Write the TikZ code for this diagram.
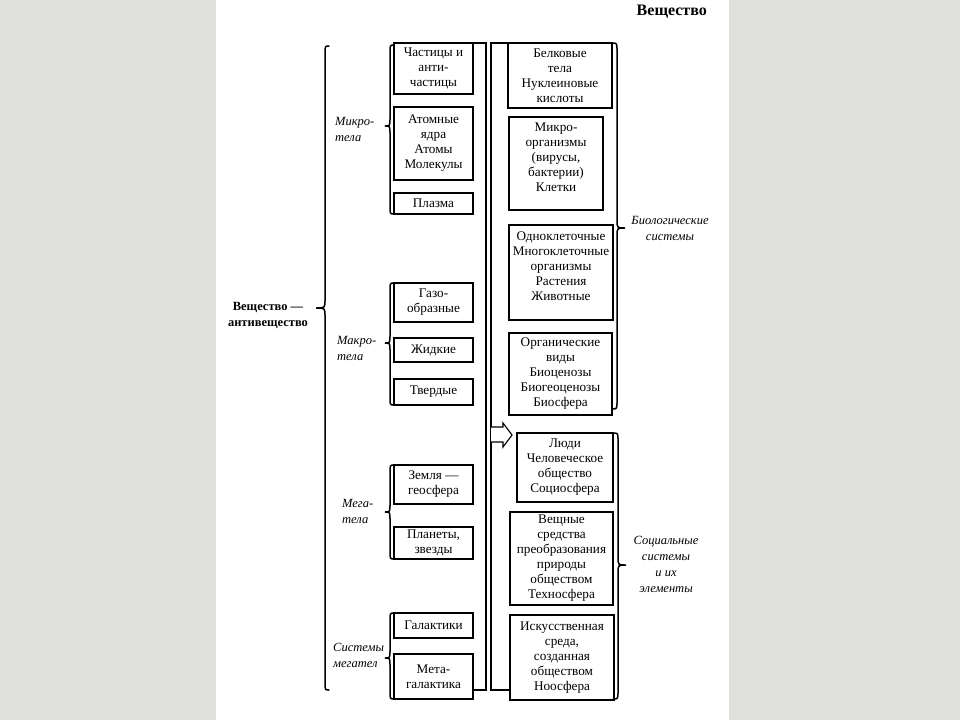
\documentclass[tikz,border=0pt]{standalone}
\usepackage{fontspec}
\setmainfont{Liberation Serif}
\usetikzlibrary{calc}
\definecolor{bggray}{RGB}{224,224,222}
\tikzset{
  boxst/.style={draw, line width=1.3pt, inner sep=0pt, outer sep=0pt, align=center, font=\fontsize{13.2}{15}\selectfont},
  lblst/.style={font=\itshape\fontsize{12.5}{16}\selectfont, inner sep=0pt, align=left, anchor=west},
  rlblst/.style={font=\itshape\fontsize{12.5}{16}\selectfont, inner sep=0pt, align=center},
  linest/.style={line width=1.3pt},
  bracest/.style={line width=1.5pt, line cap=round},
}
% box: name, x1, y1, x2, y2, text
\newcommand{\bx}[6]{\node[boxst, minimum width={#4-#2}, minimum height={#5-#3}] (#1) at ({(#2+#4)/2},{(#3+#5)/2}) {#6};}
% left-pointing brace: x, ytop, ycusp, ybot, hook, tip
\newcommand{\brL}[6]{\draw[bracest] ({#1+#5},#2) .. controls (#1,#2) .. (#1,{#2+8}) -- (#1,{#3-8}) .. controls (#1,#3) .. ({#1-#6},#3) .. controls (#1,#3) .. (#1,{#3+8}) -- (#1,{#4-8}) .. controls (#1,#4) .. ({#1+#5},#4);}
% right-pointing brace
\newcommand{\brR}[6]{\draw[bracest] ({#1-#5},#2) .. controls (#1,#2) .. (#1,{#2+8}) -- (#1,{#3-8}) .. controls (#1,#3) .. ({#1+#6},#3) .. controls (#1,#3) .. (#1,{#3+8}) -- (#1,{#4-8}) .. controls (#1,#4) .. ({#1-#5},#4);}
\begin{document}
\begin{tikzpicture}[x=1pt,y=-1pt]
\useasboundingbox (0,0) rectangle (960,720);
\fill[bggray] (0,0) rectangle (960,720);
\fill[white] (216,0) rectangle (729,720);

% title
\node[font=\bfseries\fontsize{16}{18}\selectfont, anchor=east, inner sep=0pt] (title) at (707,12) {Вещество};

% left label
\node[font=\bfseries\fontsize{12.5}{16}\selectfont, align=center, inner sep=0pt] (vav) at (268,315) {Вещество —\\антивещество};

% big brace
\brL{325}{46}{308}{690}{4}{9}

% left boxes
\bx{p1}{394}{43}{473}{94}{Частицы и\\анти-\\частицы}
\bx{p2}{394}{107}{473}{180}{Атомные\\ядра\\Атомы\\Молекулы}
\bx{p3}{394}{193}{473}{214}{Плазма}
\bx{m1}{394}{283}{473}{322}{Газо-\\образные}
\bx{m2}{394}{338}{473}{362}{Жидкие}
\bx{m3}{394}{379}{473}{405}{Твердые}
\bx{g1}{394}{465}{473}{504}{Земля —\\геосфера}
\bx{g2}{394}{527}{473}{559}{Планеты,\\звезды}
\bx{s1}{394}{613}{473}{638}{Галактики}
\bx{mg}{394}{654}{473}{699}{Мета-\\галактика}

% small braces and labels
\brL{390}{45}{126}{214}{4}{5}
\brL{390}{283}{343}{405}{4}{5}
\brL{390}{465}{512}{559}{4}{5}
\brL{390}{613}{658}{699}{4}{5}
\node[lblst] (lmicro) at (335,129) {Микро-\\тела};
\node[lblst] (lmacro) at (337,348) {Макро-\\тела};
\node[lblst] (lmega) at (342,511) {Мега-\\тела};
\node[lblst] (lsys) at (333,655) {Системы\\мегател};

% right boxes
\bx{bk}{508}{43}{612}{108}{Белковые\\тела\\Нуклеиновые\\кислоты}
\bx{mo}{509}{117}{603}{210}{Микро-\\организмы\\(вирусы,\\бактерии)\\Клетки\\[-3pt]\mbox{}}
\bx{ok}{509}{225}{613}{320}{Одноклеточные\\Многоклеточные\\организмы\\Растения\\Животные\\[-2pt]\mbox{}}
\bx{ov}{509}{333}{612}{415}{Органические\\виды\\Биоценозы\\Биогеоценозы\\Биосфера}
\bx{lj}{517}{433}{613}{502}{Люди\\Человеческое\\общество\\Социосфера}
\bx{vs}{510}{512}{613}{605}{Вещные\\средства\\преобразования\\природы\\обществом\\Техносфера}
\bx{ns}{510}{615}{614}{700}{Искусственная\\среда,\\созданная\\обществом\\Ноосфера}

% right braces and labels
\brR{617}{43}{228}{409}{5}{8}
\brR{618}{433}{565}{699}{5}{8}
\node[rlblst] (lbio) at (670,228) {Биологические\\системы};
\node[rlblst] (lsoc) at (666,564) {Социальные\\системы\\и их\\элементы};

% central connectors
\coordinate (lt) at (486,43);
\coordinate (lb) at (486,690);
\coordinate (rt) at (491,43);
\coordinate (rb) at (491,690);
\draw[linest] (p1.north east) -- (lt) -- (lb) -- (mg.east |- lb);
\draw[linest] (bk.north west) -- (rt) -- (rb) -- (ns.west |- rb);

% arrow to Люди
\coordinate (ab) at (491,435);
\draw[line width=1.1pt, fill=white, line join=miter]
  ($(ab)+(0,-8)$) -- ++(12,0) -- ++(0,-4) -- ($(ab)+(21,0)$) -- ($(ab)+(12,12)$) -- ++(0,-5) -- ($(ab)+(0,7)$);
\end{tikzpicture}
\end{document}
